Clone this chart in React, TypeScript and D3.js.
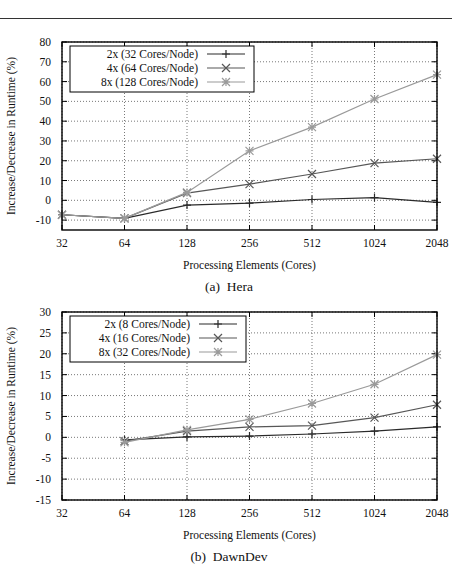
import React from "react";
import * as d3 from "d3";

// Processing elements (cores) on the x axis, log2 scale
const coreTicks = [32, 64, 128, 256, 512, 1024, 2048];

// Hera: runtime change (%) per configuration
const heraCores = [32, 64, 128, 256, 512, 1024, 2048];
const hera2x = [-7.3, -9.1, -2.4, -1.4, 0.4, 1.4, -1.0];
const hera4x = [-7.3, -9.1, 3.6, 8.2, 13.3, 18.8, 21.0];
const hera8x = [-7.3, -9.1, 4.0, 25.0, 37.0, 51.2, 63.5];
const heraLabels = ["2x (32 Cores/Node)", "4x (64 Cores/Node)", "8x (128 Cores/Node)"];
const heraYTicks = [-10, 0, 10, 20, 30, 40, 50, 60, 70, 80];

// DawnDev: runtime change (%) per configuration
const dawnCores = [64, 128, 256, 512, 1024, 2048];
const dawn2x = [-0.6, 0.1, 0.3, 0.8, 1.5, 2.5];
const dawn4x = [-0.9, 1.5, 2.5, 2.8, 4.7, 7.8];
const dawn8x = [-1.2, 1.8, 4.3, 8.1, 12.7, 19.8];
const dawnLabels = ["2x (8 Cores/Node)", "4x (16 Cores/Node)", "8x (32 Cores/Node)"];
const dawnYTicks = [-15, -10, -5, 0, 5, 10, 15, 20, 25, 30];

const seriesColors = ["#2a2a2a", "#575757", "#9a9a9a"];
const markerTypes = ["plus", "cross", "star"];
const FONT = "'Liberation Serif', 'Times New Roman', Times, serif";
const txt: React.CSSProperties = { fontFamily: FONT, whiteSpace: "pre" };

function Marker({ type, x, y, color }: { type: string; x: number; y: number; color: string }) {
  const s = 4;
  const plus = `M${x - s},${y}L${x + s},${y}M${x},${y - s}L${x},${y + s}`;
  const cross = `M${x - s},${y - s}L${x + s},${y + s}M${x - s},${y + s}L${x + s},${y - s}`;
  let d = plus;
  if (type === "cross") d = cross;
  if (type === "star") d = plus + cross;
  return <path d={d} stroke={color} strokeWidth={1.2} fill="none" />;
}

type PanelProps = {
  top: number;
  cores: number[];
  series: number[][];
  labels: string[];
  yTicks: number[];
  yDomain: [number, number];
  caption: string;
  legendWidth: number;
};

function Panel({ top, cores, series, labels, yTicks, yDomain, caption, legendWidth }: PanelProps) {
  const left = 62;
  const right = 437;
  const height = 188;
  const bottom = top + height;
  const x = d3.scaleLog().base(2).domain([32, 2048]).range([left, right]);
  const y = d3.scaleLinear().domain(yDomain).range([bottom, top]);
  const line = d3
    .line<[number, number]>()
    .x((d) => x(d[0]))
    .y((d) => y(d[1]));

  const lgX = 70;
  const lgY = top + 4;
  const rowH = 14;
  const textRight = lgX + legendWidth - 56;
  const sampleX0 = textRight + 9;
  const sampleX1 = sampleX0 + 38;

  return (
    <g>
      {/* grid */}
      {yTicks.map((t) => (
        <line key={"gy" + t} x1={left} x2={right} y1={y(t)} y2={y(t)} stroke="#555" strokeWidth={0.8} strokeDasharray="1,2" />
      ))}
      {coreTicks.map((t) => (
        <line key={"gx" + t} x1={x(t)} x2={x(t)} y1={top} y2={bottom} stroke="#555" strokeWidth={0.8} strokeDasharray="1,2" />
      ))}
      {/* inward tick marks */}
      {yTicks.map((t) => (
        <g key={"ty" + t}>
          <line x1={left} x2={left + 5} y1={y(t)} y2={y(t)} stroke="#000" />
          <line x1={right} x2={right - 5} y1={y(t)} y2={y(t)} stroke="#000" />
          <text x={left - 11} y={y(t)} dy="0.35em" textAnchor="end" fontSize={11.5} style={txt} fill="#111">
            {t}
          </text>
        </g>
      ))}
      {coreTicks.map((t) => (
        <g key={"tx" + t}>
          <line x1={x(t)} x2={x(t)} y1={bottom} y2={bottom - 5} stroke="#000" />
          <line x1={x(t)} x2={x(t)} y1={top} y2={top + 5} stroke="#000" />
          <text x={x(t)} y={bottom + 17} textAnchor="middle" fontSize={11.5} style={txt} fill="#111">
            {t}
          </text>
        </g>
      ))}
      {/* data */}
      {series.map((vals, i) => {
        const pts = cores.map((c, j) => [c, vals[j]] as [number, number]);
        return (
          <g key={"s" + i}>
            <path d={line(pts) || ""} fill="none" stroke={seriesColors[i]} strokeWidth={1.2} />
            {pts.map((p, j) => (
              <Marker key={j} type={markerTypes[i]} x={x(p[0])} y={y(p[1])} color={seriesColors[i]} />
            ))}
          </g>
        );
      })}
      {/* frame */}
      <rect x={left} y={top} width={right - left} height={height} fill="none" stroke="#000" strokeWidth={1.4} />
      {/* legend */}
      <rect x={lgX} y={lgY} width={legendWidth} height={rowH * 3 + 4} fill="#fff" stroke="#000" strokeWidth={1} />
      {labels.map((lab, i) => {
        const cy = lgY + 8 + i * rowH;
        return (
          <g key={"lg" + i}>
            <text x={textRight} y={cy} dy="0.35em" textAnchor="end" fontSize={11.5} style={txt} fill="#111">
              {lab}
            </text>
            <line x1={sampleX0} x2={sampleX1} y1={cy} y2={cy} stroke={seriesColors[i]} strokeWidth={1.2} />
            <Marker type={markerTypes[i]} x={(sampleX0 + sampleX1) / 2} y={cy} color={seriesColors[i]} />
          </g>
        );
      })}
      {/* axis titles */}
      <text
        transform={`translate(15,${(top + bottom) / 2}) rotate(-90)`}
        textAnchor="middle"
        fontSize={11.5}
        style={txt}
        fill="#111"
      >
        Increase/Decrease in Runtime (%)
      </text>
      <text x={(left + right) / 2} y={bottom + 39} textAnchor="middle" fontSize={11.5} style={txt} fill="#111">
        Processing Elements (Cores)
      </text>
      <text x={229} y={bottom + 61} textAnchor="middle" fontSize={13.5} style={txt} fill="#111">
        {caption}
      </text>
    </g>
  );
}

export default function App() {
  return (
    <svg width={452} height={566} style={{ position: "absolute", left: 0, top: 0, background: "#fff" }}>
      <rect width={452} height={566} fill="#fff" />
      <line x1={0} x2={452} y1={18.5} y2={18.5} stroke="#333" strokeWidth={1} />
      <Panel
        top={42}
        cores={heraCores}
        series={[hera2x, hera4x, hera8x]}
        labels={heraLabels}
        yTicks={heraYTicks}
        yDomain={[-15, 80]}
        caption={"(a)\u00a0 Hera"}
        legendWidth={184}
      />
      <Panel
        top={312}
        cores={dawnCores}
        series={[dawn2x, dawn4x, dawn8x]}
        labels={dawnLabels}
        yTicks={dawnYTicks}
        yDomain={[-15, 30]}
        caption={"(b)\u00a0 DawnDev"}
        legendWidth={176}
      />
    </svg>
  );
}
